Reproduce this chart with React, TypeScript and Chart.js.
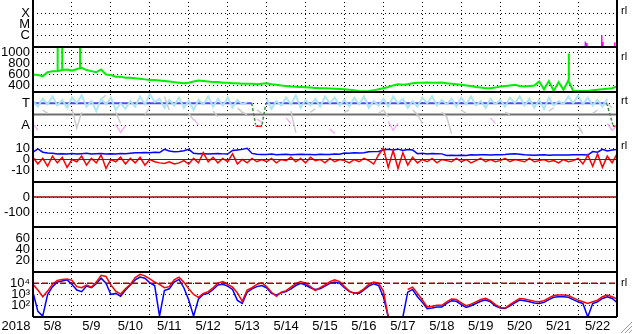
import React, { useEffect, useRef } from 'react';
import { Chart, registerables } from 'chart.js';

Chart.register(...registerables);

const STEP_HOURS = 3;
const TOTAL_HOURS = 360;
const DAY_LABELS = ['5/8', '5/9', '5/10', '5/11', '5/12', '5/13', '5/14', '5/15', '5/16', '5/17', '5/18', '5/19', '5/20', '5/21', '5/22'];
const YEAR_LABEL = '2018';

// Panel 1 (X / M / C)
const XMC_TICKS = [1, 2, 3];
const XMC_LABELS = ['C', 'M', 'X'];
const magentaHours = [340.5, 341.4, 350.6, 351.3, 358.6];
const magentaValues = [0.5, 0.35, 1.05, 0.45, 0.4];

// Panel 2 (green)
const GREEN_TICKS = [400, 600, 800, 1000];
const green = [
  600, 590, 570, 640, 660, 660, 680, 690,
  670, 700, 720, 680, 660, 640, 690, 600,
  590, 560, 560, 540, 540, 530, 520, 510,
  500, 500, 490, 480, 470, 460, 450, 440,
  450, 470, 490, 480, 470, 460, 460, 450,
  450, 440, 440, 430, 430, 430, 420, 430,
  440, 420, 410, 400, 390, 380, 375, 370,
  365, 360, 355, 350, 350, 345, 340, 335,
  330, 320, 310, 300, 295, 300, 310, 330,
  350, 370, 400, 420, 410, 420, 440, 450,
  450, 455, 450, 450, 455, 440, 430, 420,
  410, 400, 390, 370, 360, 350, 350, 360,
  380, 390, 400, 410, 390, 380, 390, 400,
  470, 330, 480, 300, 460, 320, 490, 300,
  300, 300, 300, 310, 320, 330, 340, 350,
  380,
];
const greenSpikeHours = [15.2, 18.0, 29.0, 330.3];
const greenSpikeBases = [660, 680, 700, 490];
const greenSpikeTops = [1090, 1090, 1090, 980];

// Panel 3 (T / A)
const TA_TICKS = [1, 3];
const TA_LABELS = ['A', 'T'];
const lightBlue = [
  3.2, 2.7, 3.4, 2.9, 3.6, 2.8, 3.3, 2.6,
  3.5, 3.0, 3.7, 2.7, 3.2, 2.3, 3.4, 2.9,
  3.5, 2.4, 3.0, 2.5, 3.2, 2.7, 3.6, 2.9,
  3.8, 3.1, 3.4, 2.6, 3.3, 2.8, 3.5, 2.6,
  3.2, 2.4, 3.3, 2.9, 3.6, 2.7, 3.4, 2.8,
  3.5, 2.6, 3.3, 2.9, 3.1, null, null, null,
  3.4, 2.5, 3.2, 2.8, 3.5, 2.9, 3.7, 2.6,
  3.3, 2.8, 3.4, 2.7, 3.6, 3.0, 3.5, 2.8,
  3.3, 2.7, 3.5, 2.9, 3.6, 2.6, 3.2, 2.8,
  3.4, 2.7, 3.6, 3.0, 3.4, 2.6, 3.2, 2.7,
  3.5, 3.0, 3.6, 2.8, 3.3, 2.9, 3.4, 2.7,
  3.5, 2.9, 3.6, 2.8, 3.2, 2.6, 3.4, 2.9,
  3.3, 2.7, 3.5, 3.0, 3.6, 2.8, 3.4, 2.6,
  3.3, 2.5, 3.5, 2.8, 3.2, 2.9, 3.6, 3.0,
  3.7, 2.9, 3.5, 2.8, 3.3, 2.7, 3.4, null,
  null,
];
const grayPts = [
  null, null, 2.4, 2.1, null, null, null, null,
  2.5, 0.8, 2.2, null, null, null, 3.4, 3.7,
  null, 2.2, 1.2, null, null, null, null, 2.0,
  2.6, null, null, 3.6, 2.4, null, null, null,
  2.1, 1.5, null, null, null, 2.3, 1.8, null,
  null, null, 2.6, 2.2, 2.0, null, 2.4, 2.1,
  null, 2.5, null, null, null, 2.3, 0.4, null,
  null, 2.2, 2.5, null, null, null, null, null,
  2.2, 2.4, null, null, null, null, null, 2.1,
  2.4, 1.8, null, null, null, null, 2.4, 2.0,
  1.2, null, null, null, 2.2, 1.8, 0.3, null,
  2.4, 2.1, null, null, null, 2.5, null, null,
  null, 2.2, 2.0, null, null, null, null, null,
  null, null, 2.3, 2.6, null, null, null, null,
  1.0, 0.3, null, 2.1, 2.4, null, 3.0, 2.6,
  null,
];
const pinkPts = [
  1.2, 0.6, null, null, null, null, null, null,
  null, null, null, null, null, null, null, null,
  null, 1.1, 0.4, 1.0, null, null, null, null,
  null, null, null, null, null, null, null, null,
  null, 1.6, 1.1, null, null, null, null, null,
  null, null, null, null, null, null, 1.6, 1.3,
  null, null, null, null, 1.7, 1.2, null, null,
  null, null, null, null, null, 0.7, 0.3, null,
  null, null, null, null, null, null, null, null,
  null, 1.4, 0.6, 1.2, null, null, null, null,
  null, null, null, null, null, null, null, null,
  null, null, null, null, null, null, 1.7, 1.2,
  null, null, null, null, null, null, null, null,
  null, null, null, null, null, null, null, null,
  null, null, null, null, null, null, 1.2, 0.6,
  1.0,
];
const T_LEVEL = 3;
const GRAY_LEVEL = 2;
const tSegments = [[0, 134.8], [143.6, 353.7]];
const dropSegments = [[134.8, 3, 137.2, 1.1], [141.2, 1.1, 143.6, 3], [353.7, 3, 357.4, 1.1]];
const bottomSegments = [[137.2, 141.2], [357.4, 360]];
const BOTTOM_LEVEL = 0.95;

// Panel 4 (+/-10)
const P4_TICKS = [-10, 0, 10];
const p4Blue = [
  6.5, 9.5, 6.5, 5.8, 5.5, 5.0, 5.2, 5.0,
  5.3, 4.8, 5.2, 5.5, 5.0, 5.2, 5.3, 5.0,
  5.2, 5.0, 5.4, 5.2, 5.6, 5.9, 6.0, 6.2,
  6.0, 6.4, 6.2, 9.0, 7.5, 7.0, 7.2, 7.8,
  9.0, 5.5, 5.2, 5.3, 5.0, 5.2, 5.4, 5.0,
  4.8, 8.0, 8.5, 9.0, 10.0, 5.4, 4.6, 4.4,
  4.5, 4.8, 4.3, 4.5, 4.6, 4.2, 4.5, 4.7,
  4.4, 4.5, 4.3, 4.6, 4.5, 4.4, 4.8, 4.6,
  5.8, 5.6, 6.0, 5.8, 6.0, 6.9, 7.0, 7.2,
  8.5, 9.0, 8.5, 9.2, 8.0, 8.8, 8.5, 5.2,
  5.5, 5.0, 5.3, 5.2, 5.0, 3.6, 3.8, 3.5,
  3.7, 3.6, 4.2, 4.1, 4.3, 4.2, 4.0, 4.2,
  4.3, 4.5, 4.8, 5.0, 4.6, 4.2, 4.0, 3.8,
  4.0, 4.2, 3.8, 4.0, 4.1, 3.9, 4.0, 4.2,
  4.3, 4.2, 4.0, 7.0, 6.5, 9.0, 7.5, 8.5,
  9.0,
];
const p4Red = [
  2, -4, 1, -6, 3, -3, 2, -7,
  0, -2, 3, -5, 1, -3, 4, -8,
  0, -2, 2, -4, 1, -3, 2, -5,
  0, -2, -3, -3.5, -2, -4, -3, -1,
  -4, 1, -3, 6, -2, 2, -3, 1,
  -2, 5, -4, 0, -3, 1, -2, 0,
  -2, 1, -3, 0, -1, 2, -2, 1,
  -3, 2, -1, 0, -3, 1, -2, 0,
  -1, -3, 0, -2, 1, -1, -4, 4,
  10, -7, 8, -8, 6, -5, 2, -3,
  0, -2, 1, -3, 0, -1, -2, 1,
  -2, 0, -3, -1, 1, -2, 0, -2,
  -1, 1, -2, 0, -1, -2, 1, -2,
  -1, 0, -2, -1, -3, 0, -2, -1,
  1, -4, 4, -6, 5, -7, 3, -3,
  5,
];
const P4_ZERO = 0;

// Panel 5
const P5_TICKS = [-100, 0];
const P5_ZERO = 0;

// Panel 6
const P6_TICKS = [20, 40, 60];

// Panel 7 (log)
const P7_TICKS = [100, 1000, 10000];
const P7_LABELS = ['10\u00B2', '10\u00B3', '10\u2074'];
const P7_REF = 10000;
const p7Red = [
  8000, 2500, 630, 2000, 8000, 18000, 22000, 24000,
  18000, 5000, 4000, 7000, 4500, 12600, 50000, 40000,
  7000, 2000, 1100, 3200, 8000, 32000, 63000, 45000,
  25000, 12600, 8000, 4000, 5000, 20000, 35000, 12600,
  3200, 1000, 560, 1250, 1800, 4000, 10000, 14000,
  8000, 4500, 1400, 250, 2500, 4000, 8000, 11000,
  5000, 1600, 700, 1600, 2200, 4500, 9000, 14000,
  10000, 5000, 2200, 4000, 7000, 14000, 20000, 14000,
  5000, 2000, 1250, 1600, 3200, 8000, 12600, 10000,
  2000, 10, null, null, null, 2800, 4500, 1250,
  320, 80, 90, 110, 110, 220, 400, 355,
  180, 100, 140, 220, 355, 450, 280, 125,
  70, 63, 125, 250, 450, 400, 316, 250,
  224, 280, 500, 800, 900, 900, 800, 500,
  316, 224, 160, 224, 316, 630, 900, 630,
  400,
];
const p7Blue = [
  1600, 32, 12, 1000, 5000, 12600, 16000, 20000,
  8000, 2500, 1800, 5600, 4000, 9000, 28000, 10000,
  1000, 1250, 700, 2500, 7000, 20000, 35000, 28000,
  11000, 6300, 12, 2200, 3200, 12600, 22000, 4000,
  320, 12, 400, 1000, 1250, 2800, 7000, 8000,
  5600, 2800, 300, 160, 1600, 3200, 5000, 6300,
  4000, 1250, 900, 1400, 1800, 3200, 6300, 10000,
  7000, 4000, 2800, 3200, 5600, 10000, 12600, 10000,
  4000, 1800, 1400, 1250, 2500, 5600, 9000, 6300,
  630, 10, null, null, 10, 1600, 2800, 630,
  200, 56, 63, 79, 79, 160, 282, 250,
  126, 71, 100, 158, 251, 316, 224, 100,
  63, 56, 100, 178, 316, 282, 224, 178,
  158, 200, 355, 562, 631, 631, 562, 355,
  224, 158, 10, 158, 224, 447, 631, 447,
  200,
];

const FONT = 'Liberation Sans, Arial, sans-serif';
const PANELS = ['p1', 'p2', 'p3', 'p4', 'p5', 'p6', 'p7'];

const series = (vals: (number | null)[]) => vals.map((v, i) => ({ x: i * STEP_HOURS, y: v }));
const spikes = (hours: number[], bases: number[], tops: number[]) =>
  hours.flatMap((h, i) => [{ x: h, y: bases[i] }, { x: h, y: tops[i] }, { x: h, y: null }]);
const constLine = (v: number) => [{ x: 0, y: v }, { x: TOTAL_HOURS, y: v }];

function lineDs(data: any[], yAxisID: string, color: string, width = 1.5, extra: any = {}) {
  return {
    data, yAxisID, borderColor: color, backgroundColor: color, borderWidth: width,
    pointRadius: 0, tension: 0, spanGaps: false, fill: false, ...extra,
  };
}

function yScale(min: number, max: number, ticks: number[], label: (v: number) => string, extra: any = {}) {
  return {
    type: 'linear', position: 'left', stack: 'panels', stackWeight: 1, min, max,
    afterBuildTicks: (s: any) => { s.ticks = ticks.map((v) => ({ value: v })); },
    afterFit: (s: any) => { s.width = 33; s.paddingTop = 0; s.paddingBottom = 0; },
    grid: { color: '#000', lineWidth: 1, drawTicks: false, borderDash: [1, 3] },
    border: { display: false, dash: [1, 3] },
    ticks: { color: '#000', padding: 3, autoSkip: false, font: { family: FONT, size: 13 }, callback: (v: any) => label(Number(v)) },
    ...extra,
  };
}

const framePlugin = {
  id: 'frame',
  afterDraw(chart: any) {
    const { ctx, chartArea: a } = chart;
    ctx.save();
    ctx.strokeStyle = '#000';
    ctx.lineWidth = 2;
    ctx.beginPath();
    PANELS.forEach((id) => {
      const s = chart.scales[id];
      ctx.moveTo(a.left, Math.round(s.bottom));
      ctx.lineTo(a.right, Math.round(s.bottom));
    });
    ctx.moveTo(a.left, 0);
    ctx.lineTo(a.left, a.bottom);
    ctx.moveTo(a.right, 0);
    ctx.lineTo(a.right, a.bottom);
    ctx.stroke();

    ctx.fillStyle = '#000';
    ctx.font = `13px ${FONT}`;
    ctx.textAlign = 'center';
    ctx.textBaseline = 'middle';
    ctx.fillText(YEAR_LABEL, 16, a.bottom + 9);

    ctx.font = `11px ${FONT}`;
    ctx.textAlign = 'left';
    const marks: [string, number][] = [
      ['rl', chart.scales.p1.top + 9],
      ['rl', chart.scales.p2.top + 10],
      ['rt', chart.scales.p3.top + 9],
      ['rl', chart.scales.p4.top + 9],
      ['rl', chart.scales.p7.getPixelForValue(P7_REF)],
    ];
    marks.forEach(([t, y]) => ctx.fillText(t, a.right + 4, y));

    ctx.strokeStyle = '#a0a0a0';
    ctx.lineWidth = 1;
    ctx.beginPath();
    [4, 8, 12].forEach((k) => {
      ctx.moveTo(633 - k, 333);
      ctx.lineTo(632, 334 - k);
    });
    ctx.stroke();
    ctx.restore();
  },
};

export default function App() {
  const ref = useRef<HTMLCanvasElement | null>(null);

  useEffect(() => {
    const canvas = ref.current;
    if (!canvas) return;

    const tData: any[] = [];
    tSegments.forEach(([a, b]) => { tData.push({ x: a, y: T_LEVEL }, { x: b, y: T_LEVEL }, { x: b, y: null }); });
    const dropData: any[] = [];
    dropSegments.forEach(([x1, y1, x2, y2]) => { dropData.push({ x: x1, y: y1 }, { x: x2, y: y2 }, { x: x2, y: null }); });
    const bottomData: any[] = [];
    bottomSegments.forEach(([a, b]) => { bottomData.push({ x: a, y: BOTTOM_LEVEL }, { x: b, y: BOTTOM_LEVEL }, { x: b, y: null }); });
    const magData = spikes(magentaHours, magentaHours.map(() => 0), magentaValues);

    const chart = new Chart(canvas, {
      type: 'line',
      data: {
        datasets: [
          lineDs(magData, 'p1', '#ff00ff', 1.5),
          lineDs(series(green), 'p2', '#00ee00', 2),
          lineDs(spikes(greenSpikeHours, greenSpikeBases, greenSpikeTops), 'p2', '#00ee00', 2),
          lineDs(series(lightBlue), 'p3', '#aee6f6', 2),
          lineDs(series(grayPts), 'p3', '#cccccc', 1.5),
          lineDs(series(pinkPts), 'p3', '#f4b4f0', 1.5),
          lineDs(constLine(GRAY_LEVEL), 'p3', '#707070', 2),
          lineDs(tData, 'p3', '#4c4cff', 2),
          lineDs(dropData, 'p3', '#3c8c3c', 1.5, { borderDash: [3, 2] }),
          lineDs(bottomData, 'p3', '#ff2020', 1.5),
          lineDs(constLine(P4_ZERO), 'p4', '#a00000', 1),
          lineDs(series(p4Red), 'p4', '#ff0000', 1.5),
          lineDs(series(p4Blue), 'p4', '#0000ff', 1.5),
          lineDs(constLine(P5_ZERO), 'p5', '#a00000', 1.5),
          lineDs(constLine(P7_REF), 'p7', '#a00000', 1.5, { borderDash: [6, 3] }),
          lineDs(series(p7Red), 'p7', '#ff0000', 1.5),
          lineDs(series(p7Blue), 'p7', '#0000ff', 1.5),
        ],
      },
      options: {
        responsive: false,
        animation: false,
        devicePixelRatio: 1,
        layout: { padding: { top: 2, right: 16, left: 0, bottom: 0 } },
        plugins: { legend: { display: false }, tooltip: { enabled: false } },
        scales: {
          x: {
            type: 'linear', min: 0, max: TOTAL_HOURS,
            afterBuildTicks: (s: any) => {
              const t = [];
              for (let h = 0; h <= TOTAL_HOURS; h += 12) t.push({ value: h });
              s.ticks = t;
            },
            afterFit: (s: any) => { s.height = 17; s.paddingLeft = 0; s.paddingRight = 0; },
            grid: {
              drawTicks: false, lineWidth: 1, borderDash: [1, 3],
              color: (c: any) => (c.tick && c.tick.value % 24 === 0 && c.tick.value > 0 && c.tick.value < TOTAL_HOURS ? '#000' : 'rgba(0,0,0,0)'),
            },
            border: { display: false, dash: [1, 3] },
            ticks: {
              color: '#000', padding: 2, autoSkip: false, maxRotation: 0, minRotation: 0,
              font: { family: FONT, size: 13 },
              callback: (v: any) => (Number(v) % 24 === 12 ? DAY_LABELS[(Number(v) - 12) / 24] : ''),
            },
          },
          p7: yScale(10, 100000, P7_TICKS, (v) => P7_LABELS[P7_TICKS.indexOf(v)] ?? '', { type: 'logarithmic' }),
          p6: yScale(0, 80, P6_TICKS, (v) => String(v)),
          p5: yScale(-200, 100, P5_TICKS, (v) => String(v)),
          p4: yScale(-20, 20, P4_TICKS, (v) => String(v)),
          p3: yScale(0, 4, TA_TICKS, (v) => TA_LABELS[TA_TICKS.indexOf(v)] ?? ''),
          p2: yScale(280, 1100, GREEN_TICKS, (v) => String(v)),
          p1: yScale(0, 4, XMC_TICKS, (v) => XMC_LABELS[XMC_TICKS.indexOf(v)] ?? ''),
        } as any,
      },
      plugins: [framePlugin],
    } as any);

    return () => chart.destroy();
  }, []);

  return (
    <div style={{ position: 'absolute', left: 0, top: 0, width: 633, height: 334, background: '#fff' }}>
      <canvas ref={ref} width={633} height={334} style={{ width: 633, height: 334, display: 'block' }} />
    </div>
  );
}
